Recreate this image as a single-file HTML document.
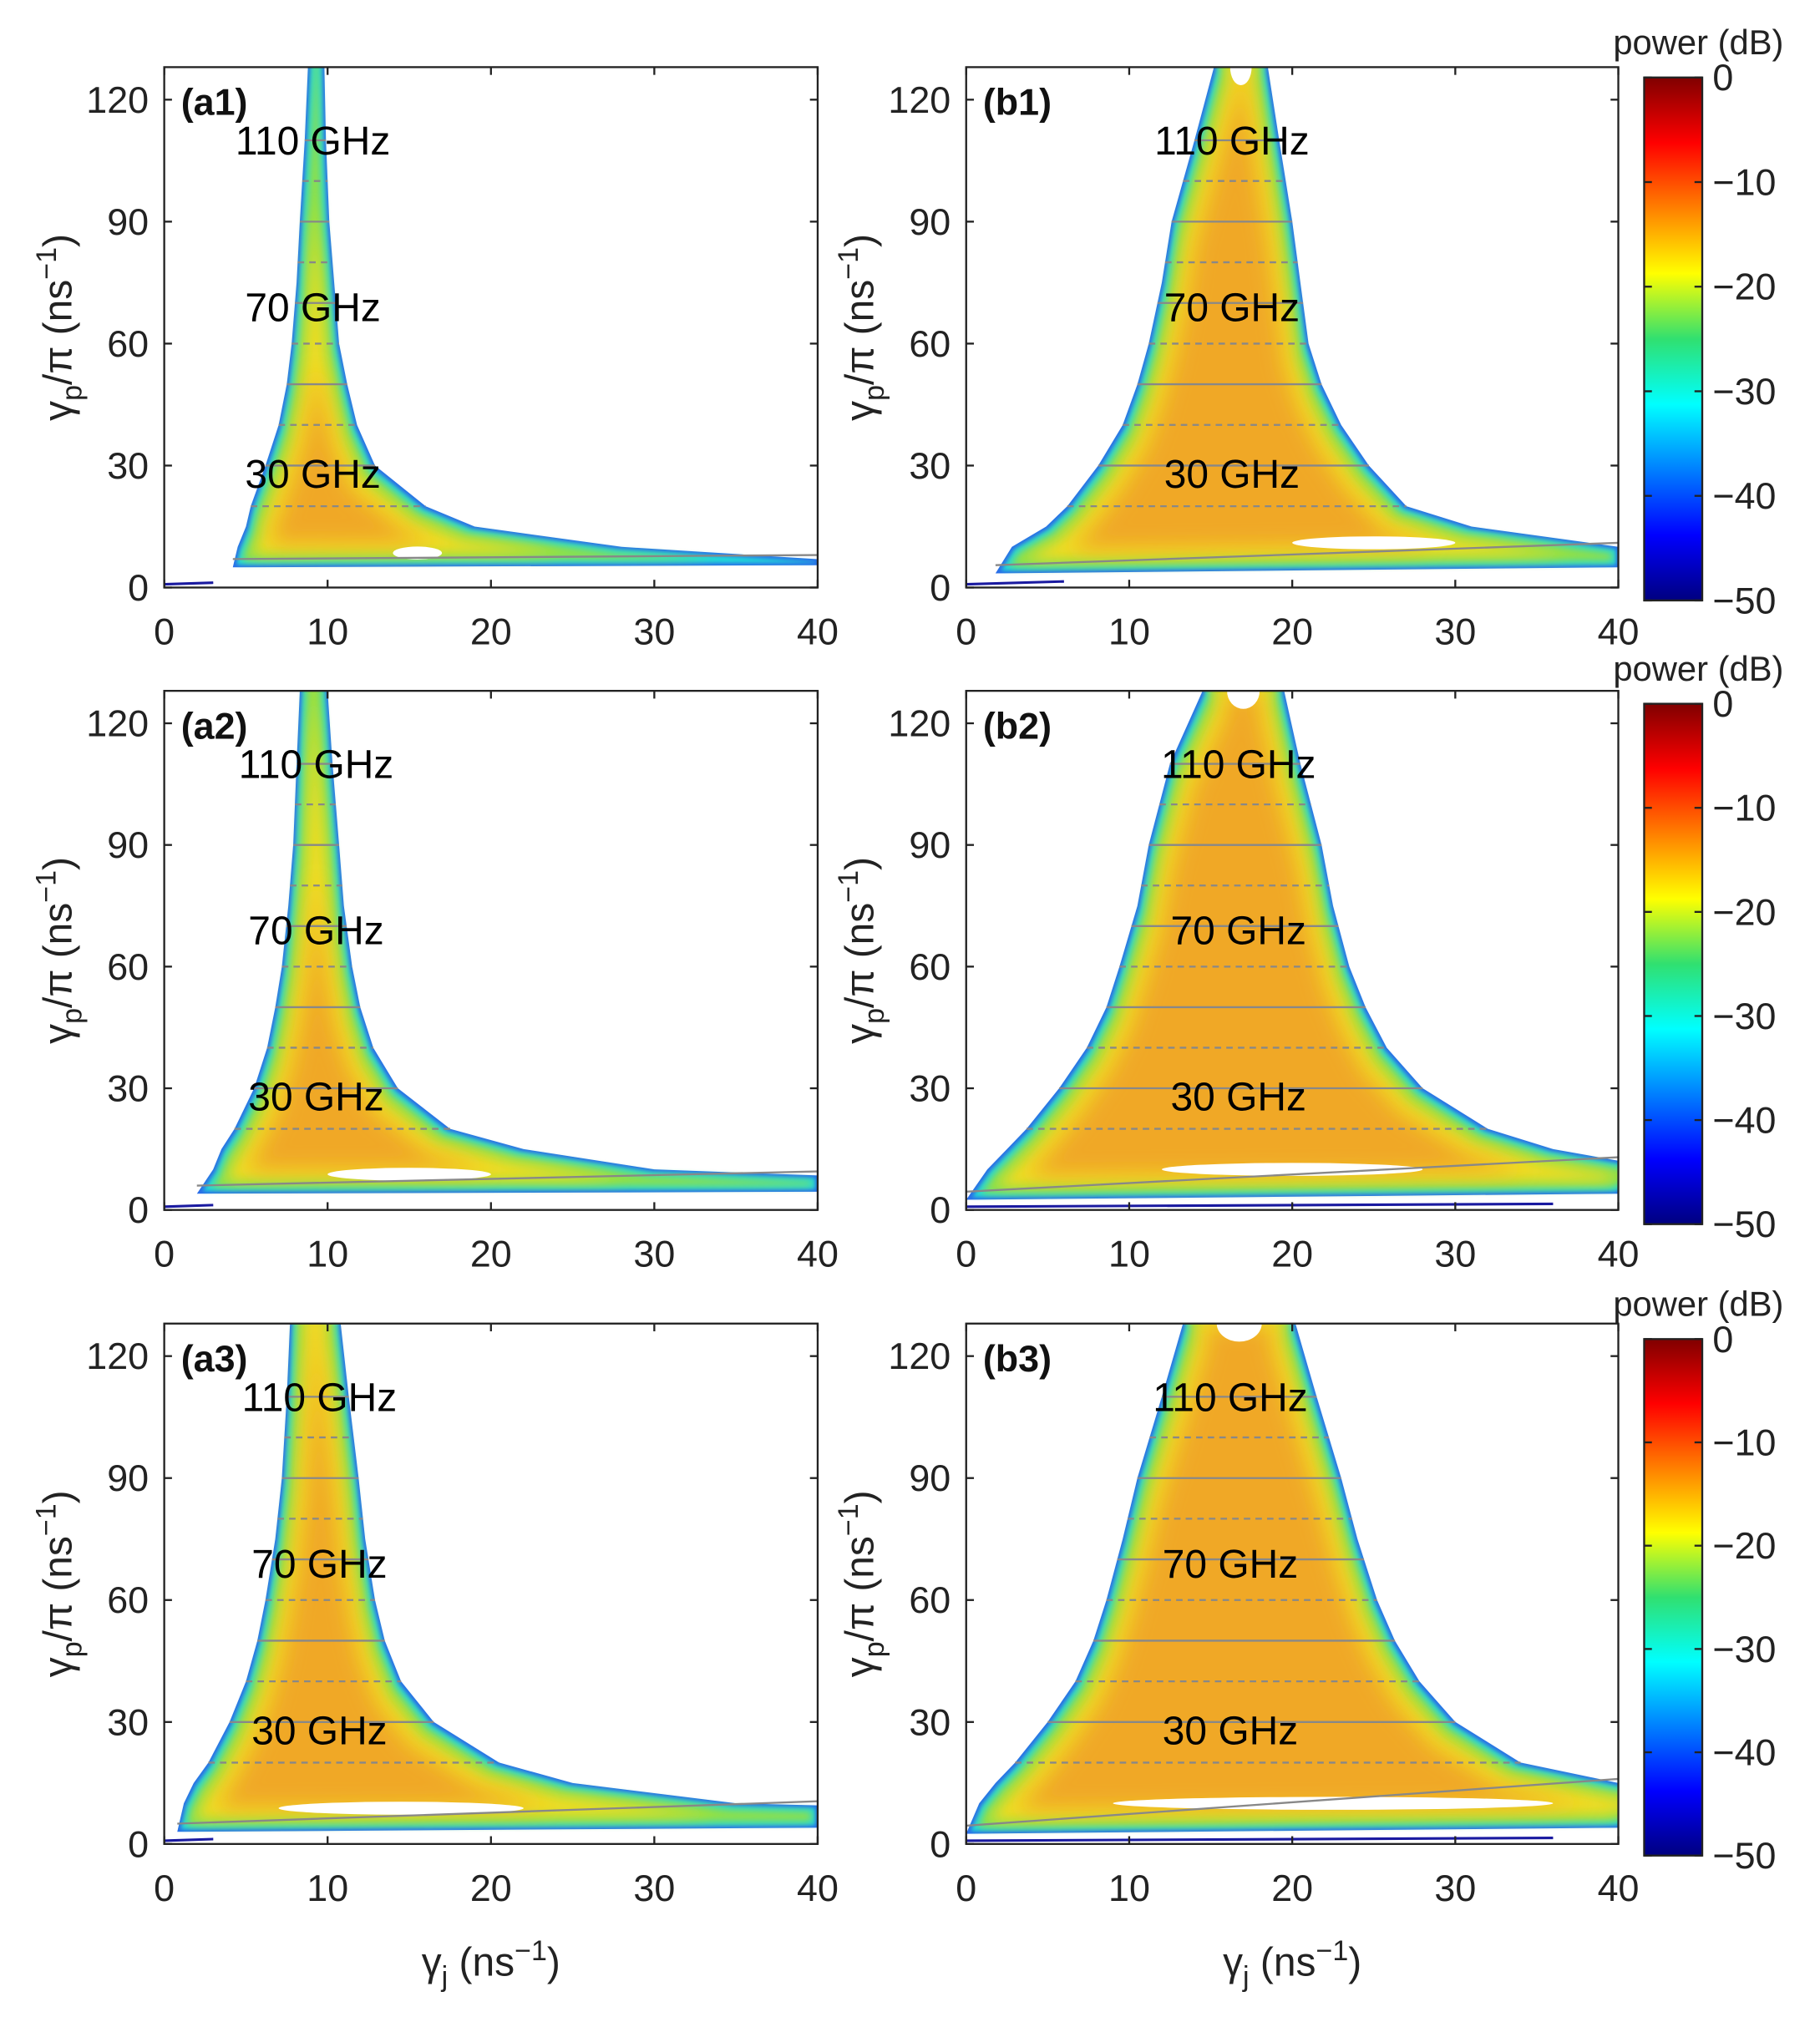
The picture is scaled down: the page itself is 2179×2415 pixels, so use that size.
<!DOCTYPE html>
<html><head><meta charset="utf-8"><style>
html,body{margin:0;padding:0;background:#fff;}
svg{display:block;font-family:"Liberation Sans",Arial,sans-serif;}
</style></head><body>
<svg id="fig" width="2179" height="2415" viewBox="0 0 1409 1562" xmlns="http://www.w3.org/2000/svg">
<defs>
<linearGradient id="jet" x1="0" y1="0" x2="0" y2="1">
<stop offset="0" stop-color="#800000"/><stop offset="0.125" stop-color="#ff0000"/>
<stop offset="0.375" stop-color="#ffff00"/><stop offset="0.5" stop-color="#30e070"/><stop offset="0.625" stop-color="#00ffff"/>
<stop offset="0.875" stop-color="#0000ff"/><stop offset="1" stop-color="#000080"/>
</linearGradient>
<filter id="e1" x="-10%" y="-10%" width="120%" height="120%"><feMorphology operator="erode" radius="2"/><feGaussianBlur stdDeviation="1.5"/></filter>
<filter id="e2" x="-10%" y="-10%" width="120%" height="120%"><feMorphology operator="erode" radius="5"/><feGaussianBlur stdDeviation="3"/></filter>
<filter id="e3" x="-10%" y="-10%" width="120%" height="120%"><feMorphology operator="erode" radius="10"/><feGaussianBlur stdDeviation="5"/></filter>
<filter id="e4" x="-10%" y="-10%" width="120%" height="120%"><feMorphology operator="erode" radius="18"/><feGaussianBlur stdDeviation="8"/></filter>
</defs>
</svg>
<script>
// ---- data (gamma_j in ns^-1, gamma_p/pi in ns^-1) ----
const xTicks=[0,10,20,30,40];
const yTicks=[0,30,60,90,120];
const cbTicks=[0,-10,-20,-30,-40,-50];
const freqLabels=["110 GHz","70 GHz","30 GHz"];
const freqLabelY=[110,69,28];
// funnel edge levels (gamma_p/pi)
const levels=[10,15,20,30,40,50,60,75,90,110,128];
const a1Left=[4.5,5.0,5.3,6.2,7.0,7.5,7.8,8.1,8.3,8.6,8.8];
const a1Right=[28,19,16,12.9,11.8,11.2,10.7,10.4,10.1,9.9,9.8];
const a2Left=[3.0,3.5,4.3,5.5,6.3,6.8,7.2,7.6,7.9,8.1,8.3];
const a2Right=[30,22,17.5,14.3,12.8,12,11.5,11,10.7,10.3,10.0];
const a3Left=[1.2,1.8,2.7,4.0,5.0,5.7,6.2,6.8,7.2,7.5,7.7];
const a3Right=[35,25,20.5,16.5,14.5,13.5,12.9,12.3,11.9,11.3,10.8];
const b1Left=[2.8,4.9,6.2,8.1,9.6,10.5,11.2,12,12.6,14,15.2];
const b1Right=[40,31,27,24.7,23,21.8,21,20.5,20,19.2,18.5];
const b2Left=[1.3,2.5,3.7,5.7,7.4,8.6,9.4,10.5,11.2,12.5,14.5];
const b2Right=[43,36,32,28,25.8,24.5,23.5,22.5,21.8,20.5,19.5];
const b3Left=[0.8,1.8,3,5,6.7,7.8,8.6,9.6,10.5,12,13.3];
const b3Right=[46,40,34,30,27.8,26.3,25.2,24,23,21.5,20.2];
// tip [x,y], tail [top,bottom] at x=40
const tips=[[4.2,5],[2,4],[0.8,3],[1.8,3.5],[0,2.5],[0,2.5]];
const tails=[[7,5.5],[8.5,4.5],[9.5,4],[10,5],[12,4],[15,4]];
// white hole [x0,x1,y]
const holes=[[14,17,8.5],[10,20,8.8],[7,22,8.8],[20,30,11],[12,28,10],[9,36,10]];
const labelX=[9.1,9.3,9.5,16.3,16.7,16.2];
const names=["a1","a2","a3","b1","b2","b3"];

const svg=document.getElementById('fig');
const NS="http://www.w3.org/2000/svg";
function mk(tag,attrs,parent){const e=document.createElementNS(NS,tag);for(const k in attrs)e.setAttribute(k,attrs[k]);(parent||svg).appendChild(e);return e;}

const cols=[{x0:127,x1:633},{x0:748,x1:1253}];
const rows=[{t:52,b:455},{t:535,b:937},{t:1025,b:1428}];
const YMAX=128;
const edges=[[a1Left,a1Right],[a2Left,a2Right],[a3Left,a3Right],[b1Left,b1Right],[b2Left,b2Right],[b3Left,b3Right]];

for(let p=0;p<6;p++){
  const c=cols[Math.floor(p/3)], r=rows[p%3];
  const sx=v=>c.x0+(c.x1-c.x0)*v/40;
  const sy=v=>r.b-(r.b-r.t)*v/YMAX;
  const g=mk('g',{});
  
  
  const cid='clip'+p;
  const cp=mk('clipPath',{id:cid},g);
  mk('rect',{x:c.x0,y:r.t,width:c.x1-c.x0,height:r.b-r.t},cp);
  const L=edges[p][0],R=edges[p][1],tip=tips[p],tail=tails[p];
  let pts=[[tip[0],tip[1]]];
  for(let i=0;i<levels.length;i++)pts.push([L[i],levels[i]]);
  pts.push([L[levels.length-1],YMAX+5]);pts.push([R[levels.length-1],YMAX+5]);
  for(let i=levels.length-1;i>=0;i--)pts.push([R[i],levels[i]]);
  if(R[0]<40)pts.push([40,tail[0]]);
  pts.push([40,tail[1]]);
  const d=pts.map(q=>sx(q[0]).toFixed(1)+','+sy(q[1]).toFixed(1)).join(' ');
  const hg=mk('g',{'clip-path':'url(#'+cid+')'},g);
  
  
  mk('polygon',{points:d,fill:'#2a6ee8'},hg);
  mk('polygon',{points:d,fill:'#20d8d8',filter:'url(#e1)'},hg);
  mk('polygon',{points:d,fill:'#8ee048',filter:'url(#e2)'},hg);
  mk('polygon',{points:d,fill:'#f0dc20',filter:'url(#e3)'},hg);
  mk('polygon',{points:d,fill:'#f0a828',filter:'url(#e4)'},hg);
  if(p>=3){const m=(L[10]+R[10])/2;mk('ellipse',{cx:sx(m),cy:r.t,rx:(sx(R[10])-sx(L[10]))*0.2,ry:14,fill:'#fff'},hg);}
  mk('line',{x1:sx(0),y1:sy(0.8),x2:sx(p>=3?(p===3?6:36):3),y2:sy(p>=3?1.5:1.2),stroke:'#1a1aa0','stroke-width':2},hg);
  const h=holes[p];
  mk('ellipse',{cx:(sx(h[0])+sx(h[1]))/2,cy:sy(h[2]),rx:(sx(h[1])-sx(h[0]))/2,ry:5,fill:'#fff'},hg);
  const lv=[110,100,90,80,70,60,50,40,30,20];
  lv.forEach((y,i)=>{
    let k=0;while(k<levels.length-2&&levels[k+1]<y)k++;
    const t=Math.min(1,Math.max(0,(y-levels[k])/(levels[k+1]-levels[k])));
    const l=L[k]+(L[k+1]-L[k])*t, rr=R[k]+(R[k+1]-R[k])*t;
    const ln=mk('line',{x1:sx(l),y1:sy(y),x2:sx(rr),y2:sy(y),stroke:'#888','stroke-width':1.5},hg);
    if(i%2===1)ln.setAttribute('stroke-dasharray','5,4');
  });
  mk('line',{x1:sx(tip[0]),y1:sy(tip[1]+2),x2:sx(40),y2:sy(tail[0]+1),stroke:'#888','stroke-width':1.5},hg);
  const ax=mk('rect',{x:c.x0,y:r.t,width:c.x1-c.x0,height:r.b-r.t,fill:'none',stroke:'#222','stroke-width':1.5},g);
  
  
  xTicks.forEach(v=>{
    mk('line',{x1:sx(v),y1:r.b,x2:sx(v),y2:r.b-6,stroke:'#222','stroke-width':1.5},g);
    mk('line',{x1:sx(v),y1:r.t,x2:sx(v),y2:r.t+6,stroke:'#222','stroke-width':1.5},g);
    const t=mk('text',{x:sx(v),y:r.b+44,'font-size':29,'text-anchor':'middle',fill:'#222'},g);
    t.textContent=v;
    
    
  });
  yTicks.forEach(v=>{
    mk('line',{x1:c.x0,y1:sy(v),x2:c.x0+6,y2:sy(v),stroke:'#222','stroke-width':1.5},g);
    mk('line',{x1:c.x1,y1:sy(v),x2:c.x1-6,y2:sy(v),stroke:'#222','stroke-width':1.5},g);
    const t=mk('text',{x:c.x0-12,y:sy(v)+10,'font-size':29,'text-anchor':'end',fill:'#222'},g);
    t.textContent=v;
    
    
  });
  const pl=mk('text',{x:c.x0+13,y:r.t+37,'font-size':29,'font-weight':'bold',fill:'#111'},g);
  pl.textContent='('+names[p]+')';
  
  
  freqLabels.forEach((s,i)=>{
    const t=mk('text',{x:sx(labelX[p]),y:sy(freqLabelY[i])+11,'font-size':31,'text-anchor':'middle',fill:'#000'},g);
    t.textContent=s;
    
    
  });
  const yc=(r.t+r.b)/2, yx=c.x0-72;
  const yt=mk('text',{x:yx,y:yc,'font-size':31,'text-anchor':'middle',fill:'#222',transform:'rotate(-90 '+yx+' '+yc+')'},g);
  yt.innerHTML='γ<tspan font-size="22" dy="8">p</tspan><tspan dy="-8">/π (ns</tspan><tspan font-size="22" dy="-12">−1</tspan><tspan dy="12">)</tspan>';
  
  
  if(p%3===2){
    const xt=mk('text',{x:(c.x0+c.x1)/2,y:1530,'font-size':31,'text-anchor':'middle',fill:'#222'},g);
    xt.innerHTML='γ<tspan font-size="22" dy="8">j</tspan><tspan dy="-8"> (ns</tspan><tspan font-size="22" dy="-12">−1</tspan><tspan dy="12">)</tspan>';
    
    
  }
}
const cbs=[{t:60,b:465},{t:545,b:948},{t:1037,b:1437}];
cbs.forEach((cb,i)=>{
  const g=mk('g',{});
  
  
  mk('rect',{x:1273,y:cb.t,width:45,height:cb.b-cb.t,fill:'url(#jet)',stroke:'#222','stroke-width':1.5},g);
  cbTicks.forEach(v=>{
    const y=cb.t+(cb.b-cb.t)*(-v)/50;
    mk('line',{x1:1273,y1:y,x2:1279,y2:y,stroke:'#222','stroke-width':1.5},g);
    mk('line',{x1:1318,y1:y,x2:1312,y2:y,stroke:'#222','stroke-width':1.5},g);
    const t=mk('text',{x:1326,y:y+10,'font-size':29,fill:'#222'},g);
    t.textContent=v===0?'0':'−'+(-v);
    
    
  });
  const t=mk('text',{x:1315,y:cb.t-18,'font-size':27,'text-anchor':'middle',fill:'#222'},g);
  t.textContent='power (dB)';
  
  
});
</script>
</body></html>
